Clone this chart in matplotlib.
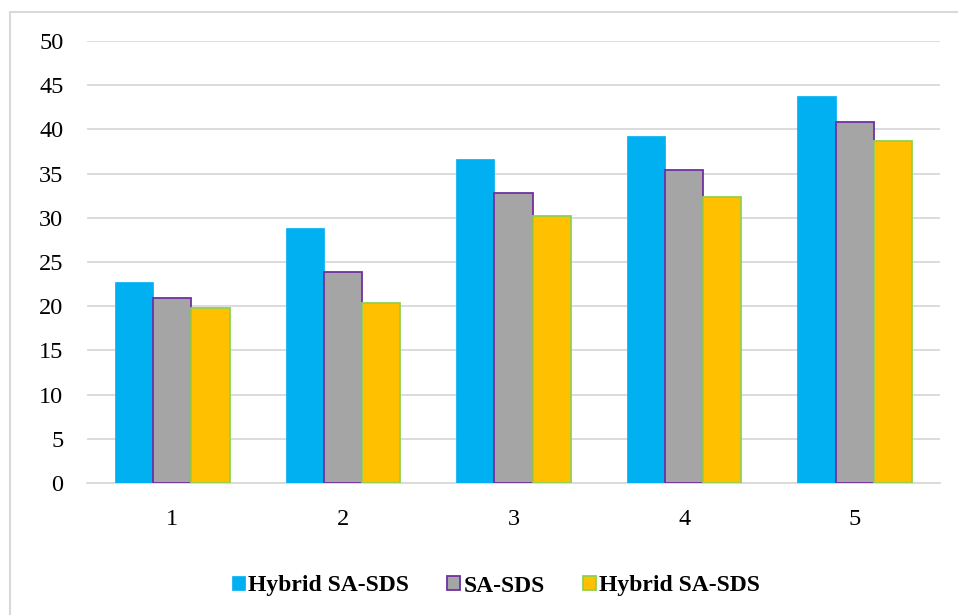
import matplotlib
matplotlib.use("Agg")
import matplotlib.pyplot as plt
import numpy as np
from matplotlib.patches import Rectangle

categories = ["1", "2", "3", "4", "5"]
series_names = ["Hybrid SA-SDS", "SA-SDS", "Hybrid SA-SDS"]
hybrid1 = [22.7, 28.8, 36.6, 39.3, 43.8]
sa_sds = [20.9, 23.9, 32.8, 35.4, 40.8]
hybrid2 = [19.8, 20.4, 30.2, 32.4, 38.7]
yticks = [0, 5, 10, 15, 20, 25, 30, 35, 40, 45, 50]

W, H = 958, 615
fig = plt.figure(figsize=(W / 100, H / 100), dpi=100)
ax = fig.add_axes([87 / W, 1 - 483 / H, (940 - 87) / W, (483 - 41) / H])

x = np.arange(1, 6)
bw = 0.224
fills = ["#00B0F0", "#A5A5A5", "#FFC000"]
edges = ["#00B0F0", "#7030A0", "#92D050"]
lws = [0.5, 1.3, 1.3]
data = [hybrid1, sa_sds, hybrid2]
handles = []
for i, vals in enumerate(data):
    b = ax.bar(x + (i - 1) * bw, vals, width=bw, color=fills[i], edgecolor=edges[i],
               linewidth=lws[i], label=series_names[i], zorder=3)
    handles.append(b)

ax.set_xlim(0.5, 5.5)
ax.set_ylim(0, 50)
ax.set_yticks(yticks)
ax.set_xticks(x)
ax.set_xticklabels(categories)
ax.yaxis.grid(True, color="#D9D9D9", linewidth=1.3, zorder=0)
for s in ["top", "right", "left"]:
    ax.spines[s].set_visible(False)
ax.spines["bottom"].set_color("#D9D9D9")
ax.spines["bottom"].set_linewidth(1.3)
ax.tick_params(axis="both", length=0, labelsize=17.5, colors="black")
ax.tick_params(axis="y", pad=17)
ax.tick_params(axis="x", pad=19)
for lab in ax.get_xticklabels() + ax.get_yticklabels():
    lab.set_fontfamily("Liberation Serif")

leg = fig.legend(handles=handles, labels=series_names, loc="center",
                 bbox_to_anchor=(496 / W, 1 - 586 / H), ncol=3, frameon=False,
                 prop={"family": "Liberation Serif", "weight": "bold", "size": 17},
                 handlelength=0.55, handleheight=0.55, handletextpad=0.15, columnspacing=1.6)

fig.patches.append(Rectangle((10 / W, -0.1), 1.2, 1 - 12 / H + 0.1, transform=fig.transFigure,
                             fill=False, edgecolor="#D9D9D9", linewidth=1.5, zorder=0))

fig.savefig("out.png", dpi=100)
